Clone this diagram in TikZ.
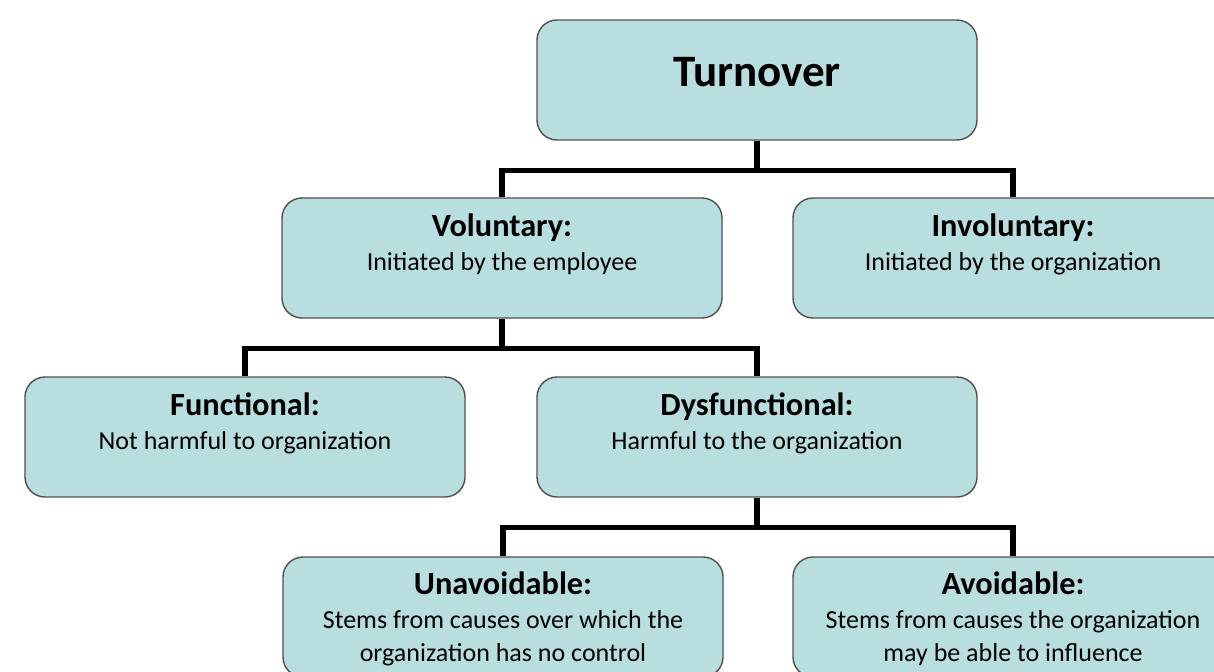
\documentclass[tikz,border=0pt]{standalone}
\usepackage{fontspec}
\setmainfont{Carlito}
\usetikzlibrary{positioning}
\definecolor{boxfill}{RGB}{184,222,224}
\definecolor{boxline}{RGB}{80,80,80}

\begin{document}
\begin{tikzpicture}[
		box/.style={draw=boxline, line width=0.8pt, fill=boxfill, rounded corners=0.4cm, minimum width=8.8cm, minimum height=2.4cm, inner sep=0pt},
		head/.style={anchor=base, font=\bfseries\fontsize{18.4}{22}\selectfont, inner sep=0pt},
		desc/.style={anchor=base, font=\fontsize{14.8}{18.7}\selectfont, align=center, inner sep=0pt},
		link/.style={line width=2.9pt}]
		\useasboundingbox (0,0) rectangle (24.28,-13.42);
		\node[box] (turn) at (15.14,-1.6) {};
		\node[box] (vol) at (10.04,-5.16) {};
		\node[box] (inv) at (20.26,-5.16) {};
		\node[box] (fun) at (4.9,-8.74) {};
		\node[box] (dys) at (15.14,-8.74) {};
		\node[box] (una) at (10.06,-12.34) {};
		\node[box] (avo) at (20.26,-12.34) {};
		\foreach \p/\c in {turn/vol,turn/inv,vol/fun,vol/dys,dys/una,dys/avo}{
			\draw[link] (\p.south) -- ++(0,-0.6) -| (\c.north);
		}
		\node[anchor=base, inner sep=0pt, font=\bfseries\fontsize{25.6}{30}\selectfont] (turnt) at ([yshift=-1.34cm]turn.north) {Turnover};
		\node[head] (volh) at ([yshift=-0.79cm]vol.north) {Voluntary:};
		\node[desc] (vold) at ([yshift=-1.47cm]vol.north) {Initiated by the employee};
		\node[head] (invh) at ([yshift=-0.79cm]inv.north) {Involuntary:};
		\node[desc] (invd) at ([yshift=-1.47cm]inv.north) {Initiated by the organization};
		\node[head] (funh) at ([yshift=-0.79cm]fun.north) {Functional:};
		\node[desc] (fund) at ([yshift=-1.47cm]fun.north) {Not harmful to organization};
		\node[head] (dysh) at ([yshift=-0.79cm]dys.north) {Dysfunctional:};
		\node[desc] (dysd) at ([yshift=-1.47cm]dys.north) {Harmful to the organization};
		\node[head] (unah) at ([yshift=-0.76cm]una.north) {Unavoidable:};
		\node[desc] (unad) at ([yshift=-2.1cm]una.north) {Stems from causes over which the\\organization has no control};
		\node[head] (avoh) at ([yshift=-0.76cm]avo.north) {Avoidable:};
		\node[desc] (avod) at ([yshift=-2.1cm]avo.north) {Stems from causes the organization\\may be able to influence};
	\end{tikzpicture}
\end{document}
